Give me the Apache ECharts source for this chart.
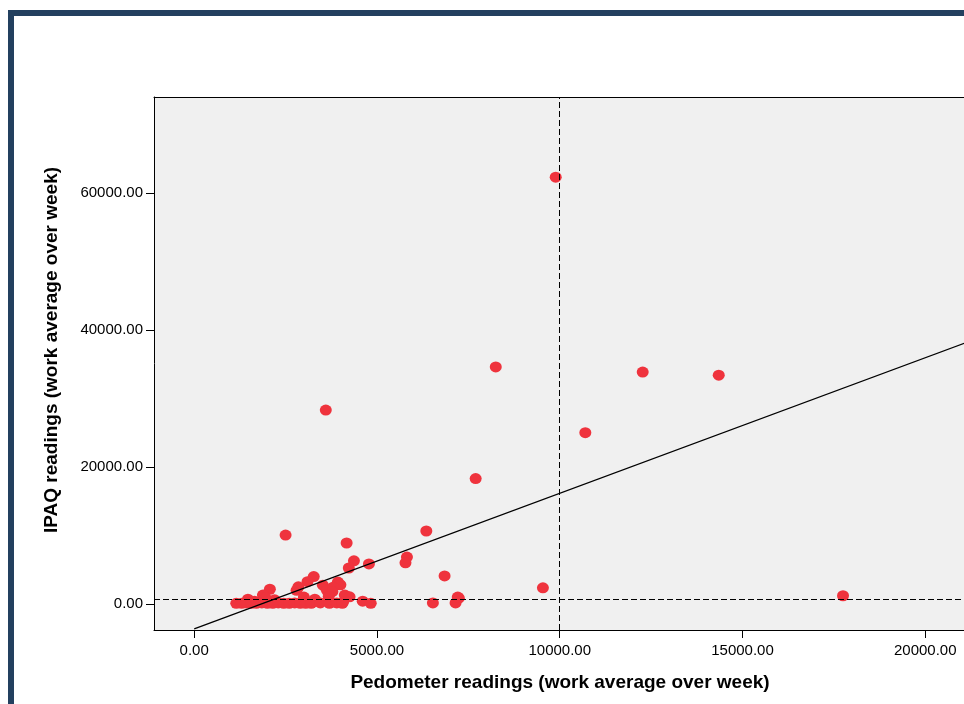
<!DOCTYPE html>
<html>
<head>
<meta charset="utf-8">
<title>Pedometer vs IPAQ</title>
<script src="https://cdn.jsdelivr.net/npm/echarts@6/dist/echarts.min.js"></script>
<style>
    body { margin: 0; background: #fff; }
    .chart { width: 964px; height: 704px; }
</style>
</head>
<body>
<div class="chart"></div>
<script>
// 数据: [pedometer, IPAQ]
var points = [
    [9890, 62300], [8250, 34600], [12270, 33850], [14350, 33400], [3600, 28300],
    [10700, 25000], [7700, 18300], [2500, 10050], [6350, 10650], [4170, 8900],
    [4370, 6300], [5820, 6850], [5780, 6000], [4780, 5850], [4230, 5250],
    [6850, 4100], [9540, 2350], [17750, 1200], [6530, 150], [7240, 850],
    [7150, 150], [7210, 1000],
    [3270, 4000], [3100, 3250], [2850, 2500], [2800, 2000], [2070, 2150],
    [1880, 1300], [1470, 700], [3520, 2750], [3630, 2000], [3930, 3200],
    [4000, 2800], [3800, 2450], [3780, 1800], [4120, 1300], [4250, 1050],
    [3680, 1100], [3300, 700], [3250, 300], [4070, 250], [4610, 400],
    [4830, 100], [3000, 1000], [2200, 600], [1650, 400], [1950, 900],
    [1150, 100], [1300, 100], [1420, 150], [1560, 100], [1700, 100],
    [1850, 150], [2000, 100], [2150, 100], [2300, 150], [2450, 100],
    [2600, 100], [2750, 150], [2900, 100], [3050, 100], [3200, 100],
    [3450, 150], [3700, 100], [3900, 150], [4050, 100]
];
// 拟合线
var fitLine = [[0, -3650], [22000, 39900]];
// 参考线
var refX = 10000;
var refY = 720;
var xTicks = [0, 5000, 10000, 15000, 20000];
var yTicks = [0, 20000, 40000, 60000];

(function(){
    // 实例化对象
    var myChart = echarts.init(document.querySelector('.chart'));
    var fmt = function (v) { return v.toFixed(2); };
    var black = { color: '#000' };
    // 指定配置和数据
    var option = {
        animation: false,
        textStyle: { fontFamily: 'Liberation Sans, Arial, sans-serif' },
        grid: {
            show: true,
            left: 154,
            top: 97,
            right: 0,
            bottom: 74,
            backgroundColor: '#f0f0f0',
            borderWidth: 0
        },
        xAxis: [{
            type: 'value',
            min: -1100,
            max: 21060,
            axisLine: { show: true, onZero: false, lineStyle: black },
            axisTick: { show: true, length: 8, customValues: xTicks, lineStyle: black },
            axisLabel: { customValues: xTicks, formatter: fmt, color: '#000', fontSize: 15, margin: 13 },
            splitLine: { show: false }
        }, {
            // 顶部边框
            type: 'value',
            position: 'top',
            min: -1100,
            max: 21060,
            axisLine: { show: true, onZero: false, lineStyle: black },
            axisTick: { show: false },
            axisLabel: { show: false },
            splitLine: { show: false }
        }],
        yAxis: {
            type: 'value',
            min: -3800,
            max: 74000,
            axisLine: { show: true, onZero: false, lineStyle: black },
            axisTick: { show: true, length: 8, customValues: yTicks, lineStyle: black },
            axisLabel: { customValues: yTicks, formatter: fmt, color: '#000', fontSize: 15, margin: 11 },
            splitLine: { show: false }
        },
        graphic: [
            // 外框
            { type: 'rect', shape: { x: 8, y: 10, width: 6, height: 700 }, style: { fill: '#23405f' } },
            { type: 'rect', shape: { x: 8, y: 10, width: 960, height: 6 }, style: { fill: '#23405f' } },
            {
                type: 'text', x: 560, y: 683,
                style: {
                    text: 'Pedometer readings (work average over week)',
                    fill: '#000', font: 'bold 19px Liberation Sans, Arial, sans-serif',
                    textAlign: 'center', textVerticalAlign: 'middle'
                }
            },
            {
                type: 'text', x: 52, y: 350, rotation: Math.PI / 2,
                style: {
                    text: 'IPAQ readings (work average over week)',
                    fill: '#000', font: 'bold 19px Liberation Sans, Arial, sans-serif',
                    textAlign: 'center', textVerticalAlign: 'middle'
                }
            }
        ],
        series: [
            {
                type: 'line',
                data: fitLine,
                showSymbol: false,
                lineStyle: { color: '#000', width: 1.3 },
                z: 3
            },
            {
                type: 'scatter',
                data: points,
                symbol: 'circle',
                symbolSize: [12, 11],
                itemStyle: { color: '#ef333d', opacity: 1 },
                z: 2,
                markLine: {
                    silent: true,
                    symbol: 'none',
                    label: { show: false },
                    lineStyle: { color: '#000', type: [6, 3], width: 1 },
                    data: [{ xAxis: refX }, { yAxis: refY }]
                }
            }
        ]
    };
    // 配置项给实例对象
    myChart.setOption(option);
})();
</script>
</body>
</html>
